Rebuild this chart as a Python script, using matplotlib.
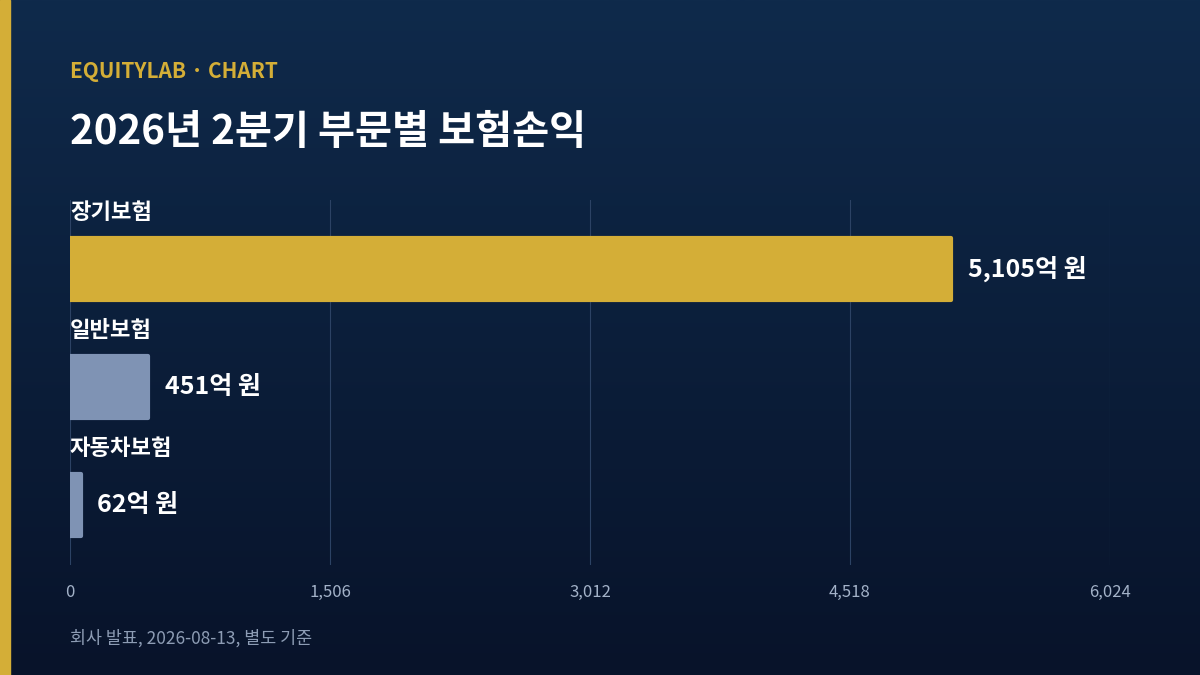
import numpy as np
import matplotlib.pyplot as plt

plt.rcParams['font.family'] = ['Noto Sans CJK KR', 'DejaVu Sans']

categories = ["장기보험", "일반보험", "자동차보험"]
values = [5105, 451, 62]
value_labels = ["5,105억 원", "451억 원", "62억 원"]
bar_colors = ["#d4ae37", "#7f93b4", "#7f93b4"]
ticks = [0, 1506, 3012, 4518, 6024]
tick_labels = ["0", "1,506", "3,012", "4,518", "6,024"]

W, H = 1200, 675
fig = plt.figure(figsize=(12, 6.75), dpi=100)

# background gradient
bg = fig.add_axes([0, 0, 1, 1], zorder=-10)
grad = np.linspace(0, 1, 256).reshape(-1, 1)
from matplotlib.colors import LinearSegmentedColormap
cmap = LinearSegmentedColormap.from_list("bg", ["#0f2a4b", "#08132a"])
bg.imshow(grad, aspect="auto", cmap=cmap, extent=[0, 1, 0, 1], origin="upper")
bg.add_patch(plt.Rectangle((0, 0), 10 / W, 1, color="#d4ae37", transform=bg.transAxes))
bg.set_xlim(0, 1); bg.set_ylim(0, 1)
bg.axis("off")

ax = fig.add_axes([70 / W, (H - 565) / H, 1040 / W, 365 / H])
ax.set_facecolor("none")
y = np.arange(len(categories))
ax.barh(y, values, height=0.525, color=bar_colors, edgecolor=bar_colors,
        linewidth=3, joinstyle="round", zorder=3)
ax.set_xlim(0, 6024)
ax.set_ylim(2.508, -0.585)
ax.set_xticks(ticks)
ax.set_xticklabels(tick_labels, color="#a3b2c8", fontsize=12)
ax.set_yticks([])
ax.tick_params(axis="x", length=0, pad=14)
ax.grid(axis="x", color="#2c4264", linewidth=0.8, zorder=0)
for s in ax.spines.values():
    s.set_visible(False)

for i, (v, lab, cat) in enumerate(zip(values, value_labels, categories)):
    ax.annotate(lab, (v, i), xytext=(12, 0), textcoords="offset points",
                va="center", ha="left", color="white", fontsize=18, fontweight="bold")
    ax.text(0, i - 0.38, cat, va="bottom", ha="left", color="white",
            fontsize=16, fontweight="bold")

fig.text(70 / W, 1 - 72 / H, "EQUITYLAB · CHART", color="#d4ae37", fontsize=15,
         fontweight="bold", va="center", ha="left")
fig.text(70 / W, 1 - 132 / H, "2026년 2분기 부문별 보험손익", color="white", fontsize=29,
         fontweight="bold", va="center", ha="left")
fig.text(70 / W, 1 - 638 / H, "회사 발표, 2026-08-13, 별도 기준", color="#8d9cb4",
         fontsize=12.5, va="center", ha="left")

fig.savefig("out.png", dpi=100)
